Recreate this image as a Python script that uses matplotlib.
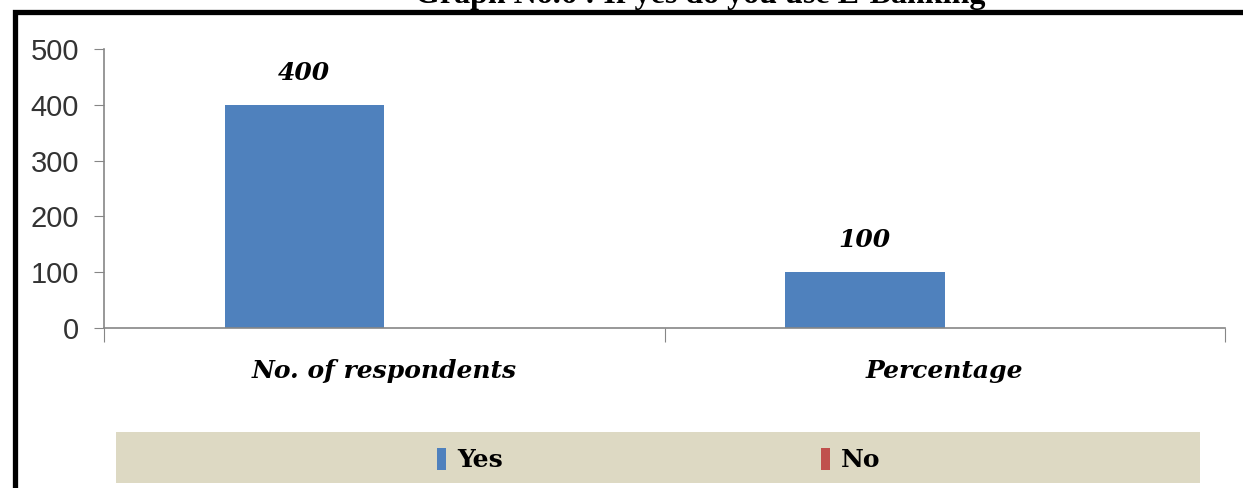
import matplotlib.pyplot as plt
from matplotlib.patches import Rectangle

# dados do gráfico
categorias = ['No. of respondents', 'Percentage']
series = ['Yes', 'No']
valores_yes = [400, 100]
valores_no = [0, 0]
yticks = [0, 100, 200, 300, 400, 500]
titulo = 'Graph No.6 : If yes do you use E-Banking'

cor_yes = '#4F81BD'
cor_no = '#C0504D'
cinza = '#868686'

fig = plt.figure(figsize=(12.43, 4.88), dpi=100)
ax = fig.add_axes([104 / 1243, 1 - 328 / 488, (1225 - 104) / 1243, (328 - 49) / 488])

largura = 0.285
centros = [i + 0.5 for i in range(len(categorias))]
barras_yes = ax.bar([c - largura / 2 for c in centros], valores_yes, largura, color=cor_yes, label=series[0])
barras_no = ax.bar([c + largura / 2 for c in centros], valores_no, largura, color=cor_no, label=series[1])

# rótulos dos valores
for b, v in zip(barras_yes, valores_yes):
    ax.text(b.get_x() + b.get_width() / 2, v + 57, str(v), ha='center', va='center',
            fontsize=18, fontweight='bold', fontstyle='italic', family='DejaVu Serif', color='black')

ax.set_xlim(0, len(categorias))
ax.set_ylim(0, 500)
ax.set_yticks(yticks)
ax.set_yticklabels([str(t) for t in yticks], fontsize=21, family='Liberation Sans', color='#333333')
ax.tick_params(axis='y', length=7, color=cinza, pad=11)

ax.set_xticks(range(len(categorias) + 1))
ax.set_xticklabels([])
ax.tick_params(axis='x', which='major', length=10, color=cinza)
ax.set_xticks(centros, minor=True)
ax.set_xticklabels(categorias, minor=True, fontsize=18, fontweight='bold', fontstyle='italic',
                   family='DejaVu Serif')
ax.tick_params(axis='x', which='minor', length=0, pad=22)

for s in ['top', 'right']:
    ax.spines[s].set_visible(False)
for s in ['left', 'bottom']:
    ax.spines[s].set_color(cinza)
    ax.spines[s].set_linewidth(1.2)

# fundo da legenda
fig.patches.append(Rectangle((116 / 1243, 1 - 483 / 488), (1200 - 116) / 1243, 51 / 488,
                             transform=fig.transFigure, facecolor='#DDD9C3', edgecolor='none', zorder=0))
leg = fig.legend(handles=[barras_yes, barras_no], labels=series, loc='center left',
                 bbox_to_anchor=(437 / 1243, 1 - 460 / 488), ncol=2, frameon=False,
                 handlelength=0.36, handleheight=1.0, handletextpad=0.45, columnspacing=12.7,
                 borderpad=0, borderaxespad=0,
                 prop={'family': 'DejaVu Serif', 'weight': 'bold', 'size': 18})

# moldura preta
fig.patches.append(Rectangle((14.5 / 1243, -0.1), 1.2, 1 - 12.5 / 488 + 0.1, transform=fig.transFigure,
                             facecolor='none', edgecolor='black', linewidth=3.8, zorder=5))

# título (cortado no topo)
fig.text(700 / 1243, 1 - 3 / 488, titulo, ha='center', va='baseline', fontsize=23,
         fontweight='bold', family='Liberation Serif')

fig.savefig('out.png', dpi=100)
